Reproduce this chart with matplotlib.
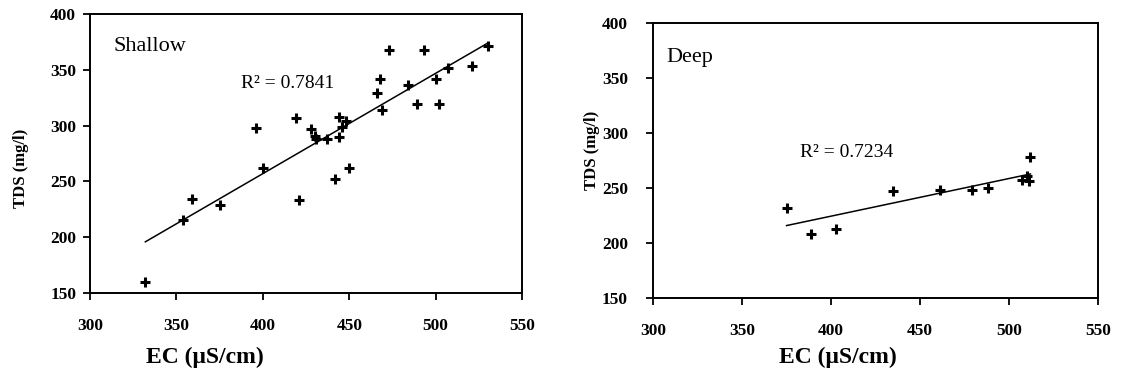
import matplotlib
matplotlib.use("Agg")
import matplotlib.pyplot as plt
import numpy as np

plt.rcParams['font.family'] = ['Liberation Serif', 'DejaVu Serif']

# shallow wells: EC (uS/cm) vs TDS (mg/l)
shallow_ec = [332, 354, 359, 375, 396, 400, 419, 421, 428, 430, 431, 437,
              442, 444, 444, 446, 448, 450, 466, 468, 469, 473, 484, 489,
              493, 500, 502, 507, 521, 530]
shallow_tds = [160, 215, 234, 229, 298, 262, 307, 233, 297, 291, 288, 288,
               252, 308, 290, 299, 304, 262, 329, 342, 314, 368, 336, 319,
               368, 342, 319, 352, 353, 371]
shallow_r2 = "R² = 0.7841"

# deep wells
deep_ec = [375, 389, 403, 435, 461, 479, 488, 507, 510, 511, 512]
deep_tds = [232, 208, 213, 247, 248, 248, 250, 257, 261, 256, 278]
deep_r2 = "R² = 0.7234"

x_ticks = [300, 350, 400, 450, 500, 550]
y_ticks = [150, 200, 250, 300, 350, 400]

fig = plt.figure(figsize=(11.31, 3.78), dpi=100)
ax1 = fig.add_axes([0.0796, 0.2249, 0.382, 0.738])
ax2 = fig.add_axes([0.5774, 0.2116, 0.3935, 0.7275])


def panel(ax, ec, tds, name, r2, name_pos, r2_pos, xpad, ypad, name_size):
    ax.plot(ec, tds, linestyle='none', marker='+', color='black',
            markersize=7, markeredgewidth=2.2)
    k, b = np.polyfit(ec, tds, 1)
    xs = np.array([min(ec), max(ec)])
    ax.plot(xs, k * xs + b, color='black', linewidth=1.1)
    ax.set_xlim(300, 550)
    ax.set_ylim(150, 400)
    ax.set_xticks(x_ticks)
    ax.set_yticks(y_ticks)
    ax.tick_params(direction='out', length=5, width=1.3, labelsize=12.5,
                   top=False, right=False)
    ax.tick_params(axis='x', pad=xpad)
    ax.tick_params(axis='y', pad=ypad)
    for lab in ax.get_xticklabels() + ax.get_yticklabels():
        lab.set_fontweight('bold')
    for s in ax.spines.values():
        s.set_linewidth(1.4)
    ax.text(name_pos[0], name_pos[1], name, transform=ax.transAxes,
            fontsize=name_size, va='center', ha='left')
    ax.text(r2_pos[0], r2_pos[1], r2, transform=ax.transAxes,
            fontsize=14, va='center', ha='left')


panel(ax1, shallow_ec, shallow_tds, "Shallow", shallow_r2,
      (0.055, 0.885), (0.35, 0.75), 13, 5, 16)
panel(ax2, deep_ec, deep_tds, "Deep", deep_r2,
      (0.03, 0.875), (0.33, 0.53), 13, 13, 16)

fig.text(205 / 1131, 1 - 357 / 378, "EC (μS/cm)", fontsize=17,
         fontweight='bold', ha='center', va='center')
fig.text(838 / 1131, 1 - 357 / 378, "EC (μS/cm)", fontsize=17,
         fontweight='bold', ha='center', va='center')
fig.text(21 / 1131, 1 - 168 / 378, "TDS (mg/l)", fontsize=12,
         fontweight='bold', rotation=90, ha='center', va='center')
fig.text(592 / 1131, 1 - 150 / 378, "TDS (mg/l)", fontsize=12,
         fontweight='bold', rotation=90, ha='center', va='center')

fig.savefig("out.png", dpi=100, facecolor='white')
